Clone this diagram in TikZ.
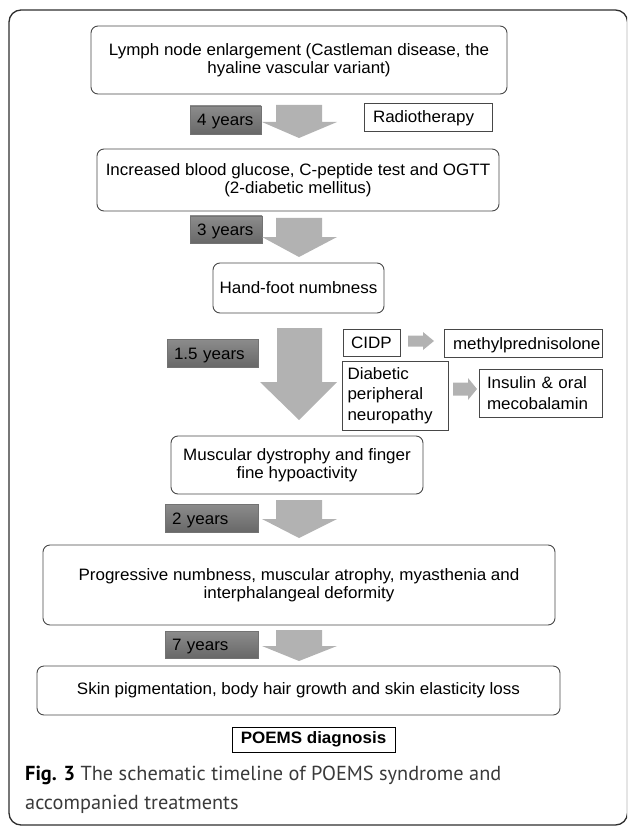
\documentclass[tikz,border=0pt]{standalone}
\usepackage{fontspec}
\setmainfont{Liberation Sans}[FakeStretch=1.03]
\newfontfamily\captionfont{PT Sans}
\definecolor{framegray}{HTML}{2E2E2E}
\definecolor{linegray}{HTML}{484848}
\definecolor{arrowgray}{HTML}{B2B2B2}
\definecolor{periodtop}{HTML}{8C8C8C}
\definecolor{periodbot}{HTML}{686868}
\definecolor{captiongray}{HTML}{3A3A3A}
\tikzstyle{stage}=[draw=linegray, line width=0.9pt, rounded corners=7pt, inner sep=0pt, align=center, font=\fontsize{16.5}{18.5}\selectfont]
\tikzstyle{treat}=[draw=linegray, line width=0.9pt, inner sep=0pt, align=left, font=\fontsize{16.5}{20.5}\selectfont]
\tikzstyle{period}=[draw=black!55, top color=periodtop, bottom color=periodbot, inner sep=0pt, align=left, text height=12pt, text depth=0pt, font=\fontsize{16.5}{18.5}\selectfont]
\tikzstyle{oneline}=[text height=12pt, text depth=0pt]
\tikzstyle{lines}=[]
\tikzstyle{block}=[fill=arrowgray]

\begin{document}
\begin{tikzpicture}[x=1pt, y=-1pt]
				\useasboundingbox (0,0) rectangle (627,826);
				\clip (0,0) rectangle (627,826);
				\draw[framegray, line width=1.3pt, rounded corners=12pt] (9,10) rectangle (627.5,825);

				% First we draw the stages of the disease
				\foreach \pos/\name/\w/\h/\txt in {{(299,60)/lymph/416/68/{Lymph node enlargement (Castleman disease, the\\hyaline vascular variant)}},
						{(298,180)/glucose/402/62/{Increased blood glucose, C-peptide test and OGTT\\(2-diabetic mellitus)}},
						{(298.5,288)/numb/171/50/{Hand-foot numbness}},
						{(297,465)/dystrophy/252/58/{Muscular dystrophy and finger\\fine hypoactivity}},
						{(299,585)/atrophy/512/80/{Progressive numbness, muscular atrophy, myasthenia and\\interphalangeal deformity}},
						{(298.5,690.5)/skin/523/49/{Skin pigmentation, body hair growth and skin elasticity loss}}}
				\node[stage, minimum width=\w, minimum height=\h] (\name) at \pos {\txt};
				\node[draw=black, line width=0.9pt, minimum width=163, minimum height=25, inner sep=0pt, font=\fontsize{16.5}{18.5}\selectfont\bfseries] (poems) at (313.5,739.5) {POEMS diagnosis};

				% Time between the stages
				\foreach \pos/\name/\w/\h/\tw/\txt in {{(225.5,120)/four/71/28/57/4 years}, {(226,229.5)/three/72/27/58/3 years},
						{(212.5,353)/onehalf/91/28/77/1.5 years}, {(211.5,518)/two/93/28/79/2 years}, {(211.5,644.5)/seven/93/27/79/7 years}}
				\node[period, minimum width=\w, minimum height=\h, text width=\tw] (\name) at \pos {\txt};

				% Treatments
				\foreach \pos/\name/\w/\h/\tw/\look/\txt in {{(428,117)/radio/128/28/110/oneline/Radiotherapy}, {(371.5,342.5)/cidp/57/27/41/oneline/CIDP},
						{(523,343)/methyl/158/28/140/oneline/methylprednisolone}, {(395,395.5)/neuro/106/69/95/lines/{Diabetic\\peripheral\\neuropathy}},
						{(540.5,393)/insulin/123/48/107/lines/{Insulin \& oral\\mecobalamin}}}
				\node[treat, \look, minimum width=\w, minimum height=\h, text width=\tw] (\name) at \pos {\txt};

				% Block arrows down the timeline
				\foreach \top/\neck/\tip in {105/122/138, 218/237/257, 500/519/538, 630/646/661}
				\fill[block] (276,\top) -- (322,\top) -- (322,\neck) -- (337,\neck) -- (299,\tip) -- (262,\neck) -- (276,\neck) -- cycle;
				\fill[block] (277,328) -- (322,328) -- (322,382) -- (337,382) -- (299,420) -- (260,382) -- (277,382) -- cycle;

				% Block arrows to the treatments
				\foreach \left/\neck/\tip/\mid/\sh/\hd in {408/423/434/341/5.5/9, 453/468/477/389/6.5/11}
				\fill[block] (\left,\mid-\sh) -- (\neck,\mid-\sh) -- (\neck,\mid-\hd) -- (\tip,\mid) -- (\neck,\mid+\hd) -- (\neck,\mid+\sh) -- (\left,\mid+\sh) -- cycle;

				% Caption
				\node[anchor=base west, inner sep=0pt, text=captiongray, font=\captionfont\fontsize{20.3}{26}\selectfont] (capone) at (25,780) {\textbf{\color{black}Fig. 3} The schematic timeline of POEMS syndrome and};
				\node[anchor=base west, inner sep=0pt, text=captiongray, font=\captionfont\fontsize{20.3}{26}\selectfont] (captwo) at (25,809) {accompanied treatments};
			\end{tikzpicture}
\end{document}
